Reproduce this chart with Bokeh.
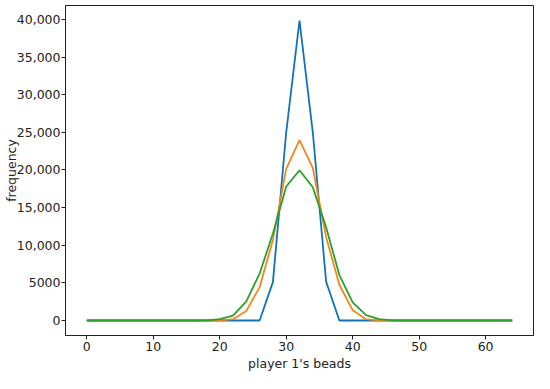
from bokeh.plotting import figure
from bokeh.models import Range1d, FixedTicker
from bokeh.embed import file_html
from bokeh.resources import INLINE

beads = list(range(0, 66, 2))

blue = [0]*14 + [5100, 25000, 39850, 25000, 5180] + [0]*14
orange = [0]*10 + [30, 170, 1270, 4420, 10700, 20130, 23950, 20260, 11100, 4750, 1360, 170, 30] + [0]*10
green = [0]*9 + [30, 170, 640, 2550, 6240, 11550, 17800, 19960, 17700, 12400, 6030, 2420, 720, 170, 30] + [0]*9

x_ticks = [0, 10, 20, 30, 40, 50, 60]
y_ticks = [0, 5000, 10000, 15000, 20000, 25000, 30000, 35000, 40000]
y_tick_labels = ["0", "5000", "10,000", "15,000", "20,000", "25,000", "30,000", "35,000", "40,000"]

colors = ["#1172B6", "#F0881E", "#2CA02C"]
FONT = "DejaVu Sans"

p = figure(width=534, height=373, output_backend="svg", toolbar_location=None,
           x_range=Range1d(-3.2, 67.2), y_range=Range1d(-1992, 41842),
           min_border_left=40, min_border_right=1, min_border_top=5, min_border_bottom=30)

for ys, c in zip([blue, orange, green], colors):
    p.line(beads, ys, line_color=c, line_width=1.8)

p.xgrid.visible = False
p.ygrid.visible = False
p.outline_line_color = "#222222"
p.outline_line_width = 1
p.outline_line_alpha = 1

for ax in (p.xaxis[0], p.yaxis[0]):
    ax.major_tick_out = 4
    ax.major_tick_in = 0
    ax.minor_tick_line_color = None
    ax.axis_line_color = "#222222"
    ax.major_tick_line_color = "#222222"
    ax.major_label_text_font = FONT
    ax.major_label_text_font_size = "12.5px"
    ax.major_label_text_color = "#222222"
    ax.axis_label_text_font = FONT
    ax.axis_label_text_font_size = "12.5px"
    ax.axis_label_text_font_style = "normal"
    ax.axis_label_text_color = "#222222"

p.xaxis.major_label_standoff = 2
p.yaxis.major_label_standoff = 1
p.xaxis.ticker = FixedTicker(ticks=x_ticks)
p.yaxis.ticker = FixedTicker(ticks=y_ticks)
p.yaxis.major_label_overrides = {t: l for t, l in zip(y_ticks, y_tick_labels)}
p.xaxis.axis_label = "player 1's beads"
p.yaxis.axis_label = "frequency"
p.xaxis.axis_label_standoff = 2
p.yaxis.axis_label_standoff = -5

open("out.html", "w").write(file_html(p, INLINE))
